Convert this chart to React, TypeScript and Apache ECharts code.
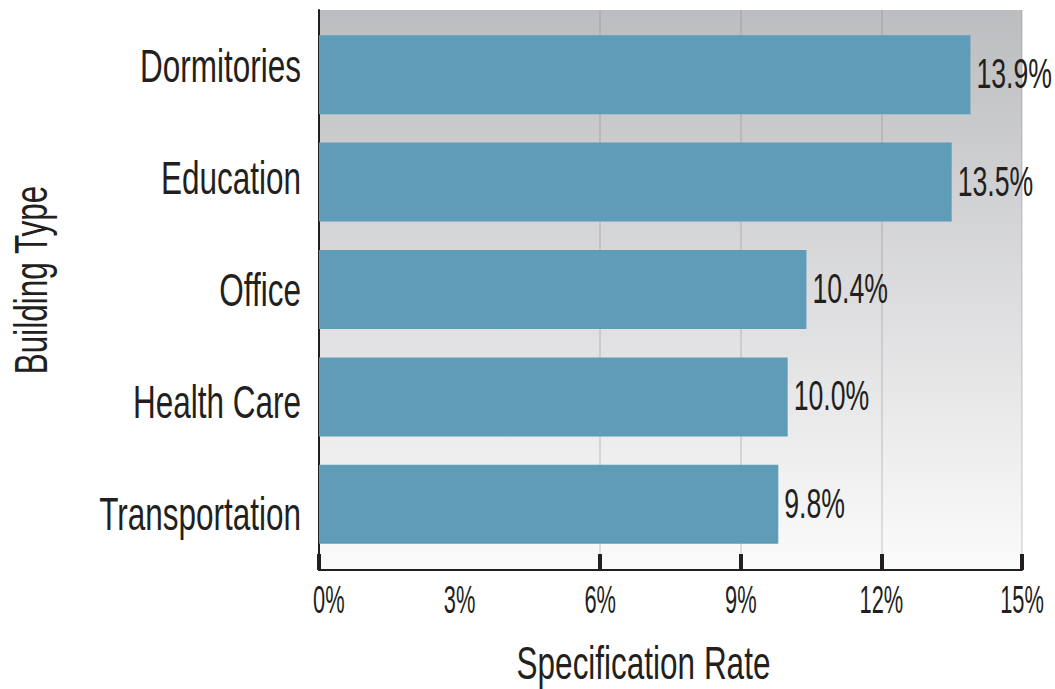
import React, { useEffect, useRef } from "react";
import * as echarts from "echarts";

const categories = ["Dormitories", "Education", "Office", "Health Care", "Transportation"];
const rates = [13.9, 13.5, 10.4, 10.0, 9.8];
const xTicks = [0, 3, 6, 9, 12, 15];
const majorTicks = [0, 6, 9, 12, 15];
const xAxisTitle = "Specification Rate";
const yAxisTitle = "Building Type";

const FONT = "'Liberation Sans', Arial, sans-serif";
const INK = "#231f20";

const PLOT_LEFT = 319;
const PLOT_TOP = 10;
const PLOT_W = 703;
const PLOT_H = 560;

export default function App() {
  const ref = useRef<HTMLDivElement>(null);
  useEffect(() => {
    if (!ref.current) return;
    const chart = echarts.init(ref.current, undefined, { renderer: "svg" });
    chart.setOption({
      animation: false,
      backgroundColor: "#ffffff",
      grid: [
        {
          left: PLOT_LEFT,
          top: PLOT_TOP,
          width: PLOT_W,
          height: PLOT_H,
          show: true,
          borderWidth: 0,
          backgroundColor: new echarts.graphic.LinearGradient(0, 0, 0, 1, [
            { offset: 0, color: "#bcbdc0" },
            { offset: 1, color: "#fbfbfb" },
          ]),
        },
        { left: PLOT_LEFT, top: 21, width: PLOT_W, height: 537 },
      ],
      xAxis: [
        {
          gridIndex: 0,
          type: "value",
          min: xTicks[0],
          max: xTicks[xTicks.length - 1],
          interval: 3,
          axisLine: { show: true, onZero: false, lineStyle: { color: INK, width: 2 } },
          axisTick: {
            show: true,
            inside: true,
            length: 16,
            customValues: majorTicks,
            lineStyle: { color: INK, width: 4 },
          },
          axisLabel: { show: false },
          splitLine: { show: true, lineStyle: { color: "rgba(130,120,130,0.28)", width: 1.5 } },
        },
        {
          gridIndex: 1,
          type: "value",
          min: xTicks[0],
          max: xTicks[xTicks.length - 1],
          show: false,
        },
      ],
      yAxis: [
        {
          gridIndex: 0,
          type: "category",
          inverse: true,
          data: categories,
          axisLine: { show: true, lineStyle: { color: INK, width: 2 } },
          axisTick: { show: false },
          axisLabel: { show: false },
          splitLine: { show: false },
        },
        {
          gridIndex: 1,
          type: "category",
          inverse: true,
          data: categories,
          show: false,
        },
      ],
      series: [
        {
          type: "bar",
          xAxisIndex: 1,
          yAxisIndex: 1,
          data: rates,
          barCategoryGap: "26.4%",
          itemStyle: { color: "#5e9cb8" },
        },
      ],
    });

    const txt = (
      text: string,
      x: number,
      y: number,
      size: number,
      sx: number,
      align: string,
      rotation = 0
    ) => ({
      type: "text",
      x,
      y,
      rotation,
      scaleX: sx,
      silent: true,
      style: {
        text,
        fontSize: size,
        fontFamily: FONT,
        fill: INK,
        textAlign: align,
        textVerticalAlign: "middle",
      },
    });

    const elements: any[] = [];
    // category labels (aligned to the plot's category bands)
    categories.forEach((c, i) => {
      const p = chart.convertToPixel({ xAxisIndex: 0, yAxisIndex: 0 }, [0, i]) as number[];
      elements.push(txt(c, p[0] - 18, p[1], 47, 0.67, "right"));
    });
    // tick labels
    xTicks.forEach((v, i) => {
      const p = chart.convertToPixel({ xAxisIndex: 0, yAxisIndex: 0 }, [v, 0]) as number[];
      const y = PLOT_TOP + PLOT_H + 29;
      if (i === 0) elements.push(txt(`${v}%`, p[0] - 6, y, 39, 0.56, "left"));
      else elements.push(txt(`${v}%`, p[0], y, 39, 0.56, "center"));
    });
    // value labels
    rates.forEach((v, i) => {
      const p = chart.convertToPixel({ seriesIndex: 0 }, [v, i]) as number[];
      elements.push(txt(`${v.toFixed(1)}%`, p[0] + 6, p[1] - 1, 43, 0.62, "left"));
    });
    // axis titles
    elements.push(txt(xAxisTitle, PLOT_LEFT + PLOT_W / 2 - 27, 663, 47, 0.67, "center"));
    elements.push(txt(yAxisTitle, 31, 280, 47, 0.67, "center", Math.PI / 2));

    chart.setOption({ graphic: { elements } });
    return () => chart.dispose();
  }, []);
  return (
    <div
      ref={ref}
      style={{ position: "fixed", left: 0, top: 0, width: 1055, height: 689 }}
    />
  );
}
